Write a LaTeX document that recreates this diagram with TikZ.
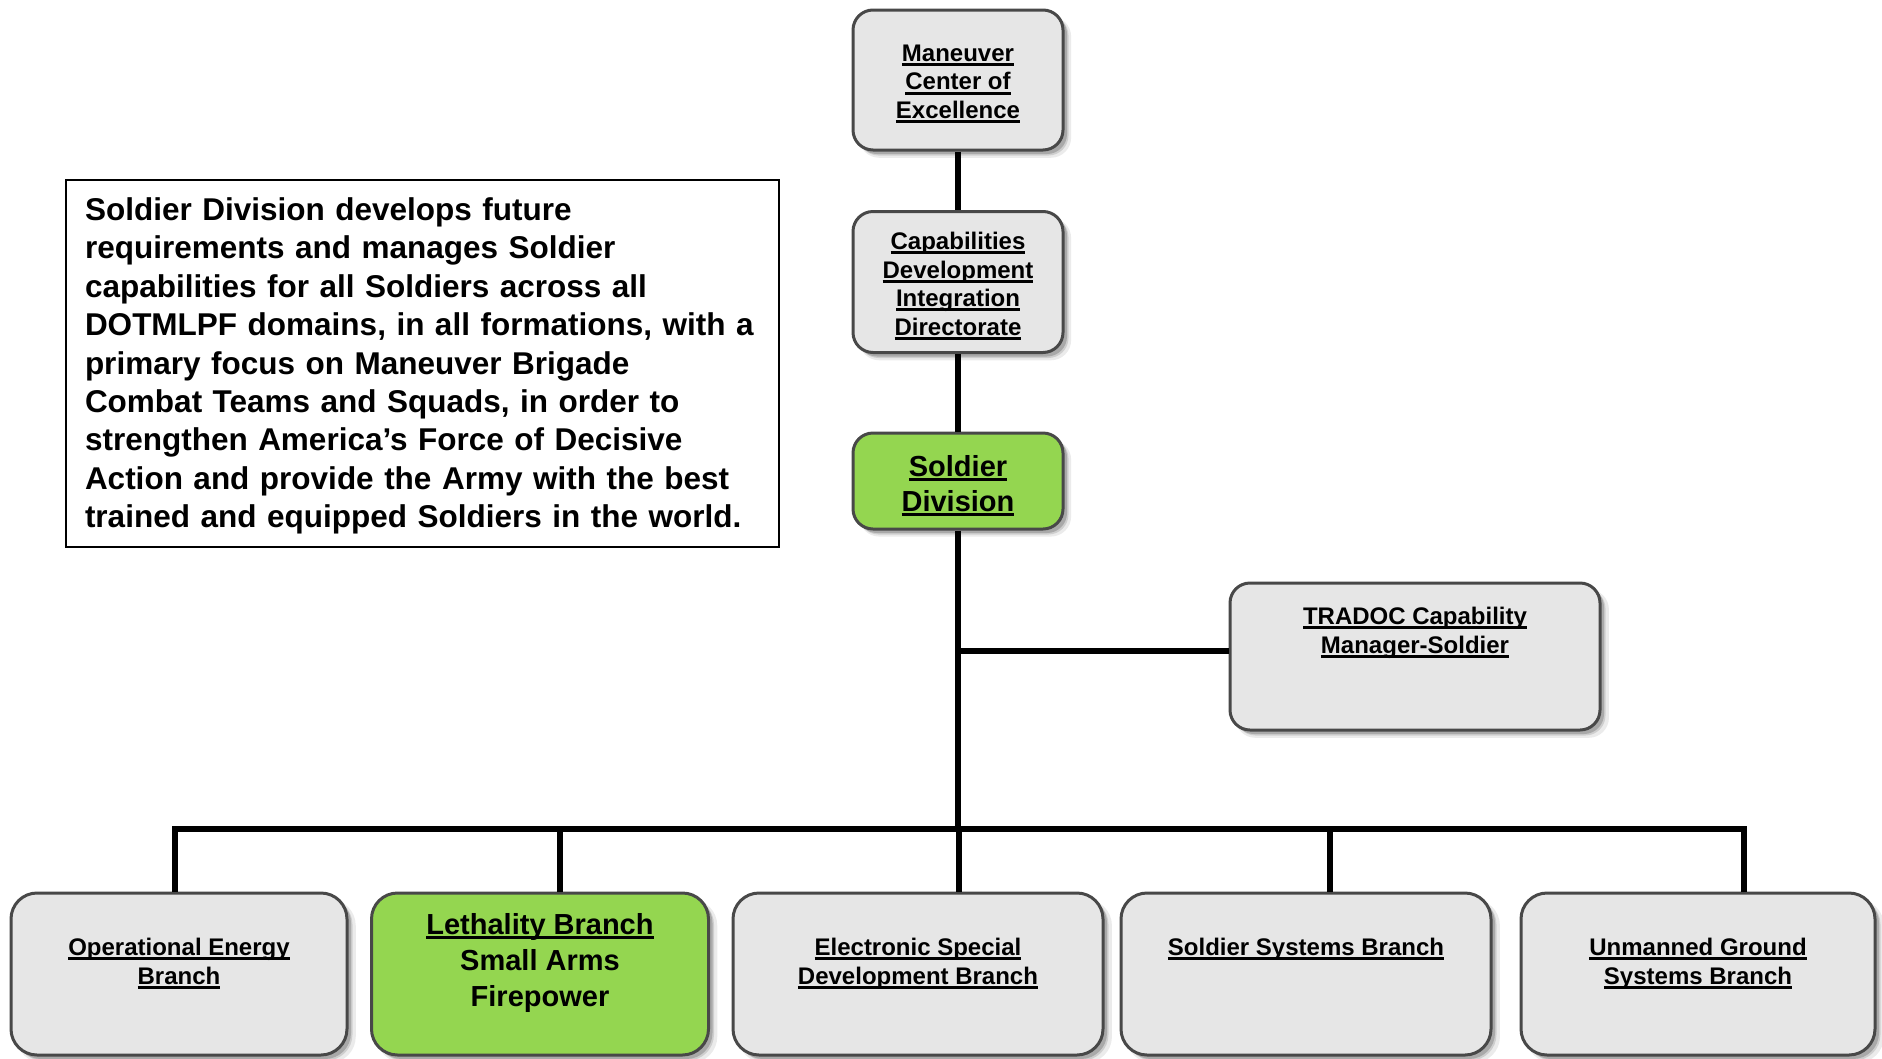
\documentclass[tikz,border=0pt]{standalone}
\usepackage{fontspec}
\setmainfont{Liberation Sans}
\usetikzlibrary{shadows}
\definecolor{boxgray}{RGB}{230,230,230}
\definecolor{boxgreen}{RGB}{148,214,80}
\definecolor{edgegray}{RGB}{72,72,72}
\newcommand\myul[1]{\begingroup\setbox0\hbox{#1}\leavevmode\rlap{\rule[-4.6pt]{\wd0}{3pt}}\box0\endgroup}
\begin{document}
\begin{tikzpicture}[x=1pt,y=-1pt,
  orgbox/.style={draw=edgegray, line width=3pt, fill=boxgray, rounded corners=20pt,
    general shadow={shadow xshift=7pt, shadow yshift=-7pt, shadow scale=1.01, fill=black, opacity=0.08},
    general shadow={shadow xshift=5.5pt, shadow yshift=-5.5pt, fill=black, opacity=0.12},
    general shadow={shadow xshift=4pt, shadow yshift=-4pt, fill=black, opacity=0.18},
    inner sep=0pt},
  greenbox/.style={orgbox, fill=boxgreen},
  toptext/.style={font=\bfseries\fontsize{24}{28.5}\selectfont, align=center, inner sep=0pt},
  lowtext/.style={font=\bfseries\fontsize{24}{29}\selectfont, align=center, inner sep=0pt, anchor=north},
  link/.style={line width=6pt, black}]
\useasboundingbox (0,0) rectangle (1882,1058);

% top column
\node[orgbox, minimum width=210pt, minimum height=140pt] (mcoe) at (958,80) {};
\node[toptext] (mcoet) at (958,84) {\myul{Maneuver}\\\myul{Center of}\\\myul{Excellence}};
\node[orgbox, minimum width=210pt, minimum height=141pt] (cdid) at (958,282) {};
\node[toptext] (cdidt) at (958,286)
  {\myul{Capabilities}\\\myul{Development}\\\myul{Integration}\\\myul{Directorate}};
\node[greenbox, minimum width=210pt, minimum height=96pt] (sd) at (958,481) {};
\node[toptext, font=\bfseries\fontsize{29}{35}\selectfont] (sdt) at (958,486)
  {\myul{Soldier}\\\myul{Division}};

% TRADOC
\node[orgbox, minimum width=370pt, minimum height=147pt] (tcm) at (1415,656.5) {};
\node[toptext, anchor=north] (tcmt) at (1415,607)
  {\myul{TRADOC Capability}\\\myul{Manager-Soldier}};

% mission statement
\node[draw=black, line width=1.8pt, minimum width=713pt, minimum height=367pt, inner sep=0pt] (mission) at (422.5,363.5) {};
\node[inner sep=0pt, text width=675pt, align=left,
  font=\bfseries\fontsize{31.5}{38.4}\selectfont] (missiont) at (422.5,366)
  {Soldier Division develops future\\
   requirements and manages Soldier\\
   capabilities for all Soldiers across all\\
   DOTMLPF domains, in all formations, with a\\
   primary focus on Maneuver Brigade\\
   Combat Teams and Squads, in order to\\
   strengthen America’s Force of Decisive\\
   Action and provide the Army with the best\\
   trained and equipped Soldiers in the world.};

% bottom row
\node[orgbox, rounded corners=26pt, minimum width=336pt, minimum height=162pt] (b1) at (179,974) {};
\node[greenbox, rounded corners=26pt, minimum width=337pt, minimum height=162pt] (b2) at (540,974) {};
\node[orgbox, rounded corners=26pt, minimum width=370pt, minimum height=162pt] (b3) at (918,974) {};
\node[orgbox, rounded corners=26pt, minimum width=370pt, minimum height=162pt] (b4) at (1306,974) {};
\node[orgbox, rounded corners=26pt, minimum width=354pt, minimum height=162pt] (b5) at (1698,974) {};

\node[lowtext] (b1t) at (179,938) {\myul{Operational Energy}\\\myul{Branch}};
\node[lowtext, font=\bfseries\fontsize{29}{36}\selectfont] (b2t) at (540,913)
  {\myul{Lethality Branch}\\Small Arms\\Firepower};
\node[lowtext] (b3t) at (918,938) {\myul{Electronic Special}\\\myul{Development Branch}};
\node[lowtext] (b4t) at (1306,938) {\myul{Soldier Systems Branch}};
\node[lowtext] (b5t) at (1698,938) {\myul{Unmanned Ground}\\\myul{Systems Branch}};

% connectors
\coordinate (busL) at (175,829);
\coordinate (busR) at (1744,829);
\coordinate (d2) at (560,829);
\coordinate (d3) at (959,829);
\coordinate (d4) at (1330,829);
\coordinate (tj) at (958,651);

\draw[link] (mcoe.south) -- (cdid.north);
\draw[link] (cdid.south) -- (sd.north);
\draw[link] (sd.south) -- (sd.south |- busL);
\draw[link] (tj) -- (tj -| tcm.west);
\draw[link, line cap=rect] (busL) -- (busR);
\draw[link] (busL) -- (busL |- b1.north);
\draw[link] (d2) -- (d2 |- b2.north);
\draw[link] (d3) -- (d3 |- b3.north);
\draw[link] (d4) -- (d4 |- b4.north);
\draw[link] (busR) -- (busR |- b5.north);
\end{tikzpicture}
\end{document}
